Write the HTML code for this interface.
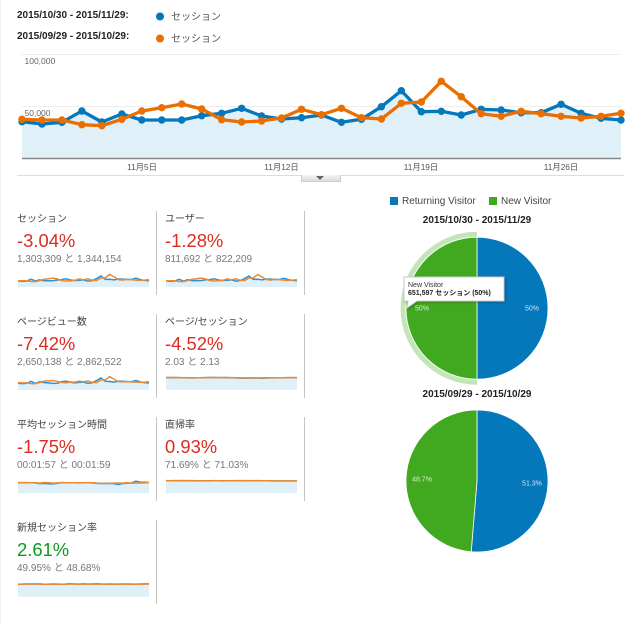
<!DOCTYPE html>
<html lang="ja">
<head>
<meta charset="utf-8">
<title>セッション比較</title>
<style>
html,body{margin:0;padding:0;background:#fff;width:637px;height:625px;overflow:hidden}
body{position:relative;font-family:"Liberation Sans","Noto Sans CJK JP",sans-serif;color:#333;filter:blur(0.35px)}
.abs{position:absolute;white-space:nowrap;line-height:1}
svg{position:absolute;left:0;top:0;overflow:visible}
.range{left:17px;font-size:10px;font-weight:bold;color:#222}
.lg{left:171px;font-size:10px;color:#555}
.tick{font-size:8.3px;color:#555;transform:translateX(-50%)}
.ylab{left:24.500px;font-size:8.5px;color:#666}
.t{font-size:10px;color:#444}
.v{font-size:18.4px}
.s{font-size:10px;color:#777}
.div{position:absolute;width:1px;height:84px;background:#c4c4c4}
.red{color:#dd2c20}.grn{color:#109a23}
.pt{font-size:10px;font-weight:bold;color:#222;left:477px;transform:translateX(-50%)}
</style>
</head>
<body>
<div class="abs" style="left:0;top:0;width:1px;height:625px;background:#f1f1f1"></div>

<div class="abs range" style="top:11px">2015/10/30 - 2015/11/29:</div>
<div class="abs range" style="top:32px">2015/09/29 - 2015/10/29:</div>
<div class="abs lg" style="top:13px">セッション</div>
<div class="abs lg" style="top:35px">セッション</div>

<svg id="main-chart" width="637" height="185"></svg>

<div class="abs ylab" style="top:56.500px">100,000</div>
<div class="abs ylab" style="top:109px">50,000</div>
<div class="abs tick" style="left:142px;top:163px">11月5日</div>
<div class="abs tick" style="left:281.5px;top:163px">11月12日</div>
<div class="abs tick" style="left:421px;top:163px">11月19日</div>
<div class="abs tick" style="left:561px;top:163px">11月26日</div>

<div class="abs" style="left:17px;top:175px;width:607px;height:1px;background:#ddd"></div>
<div class="abs" style="left:301px;top:175px;width:38px;height:6px;background:linear-gradient(#f4f4f4,#dcdcdc);border:1px solid #ccc;border-top:none"></div>
<div class="abs" style="left:316px;top:176px;width:0;height:0;border-left:4px solid transparent;border-right:4px solid transparent;border-top:4px solid #666"></div>

<div>
<div class="abs t" style="left:17px;top:214.500px">セッション</div>
<div class="abs v red" style="left:17px;top:232px">-3.04%</div>
<div class="abs s" style="left:17px;top:255px">1,303,309 と 1,344,154</div>
<svg id="spark-sessions" width="637" height="625"></svg>
<div class="div" style="left:156px;top:211px"></div>
</div>
<div>
<div class="abs t" style="left:165px;top:214.500px">ユーザー</div>
<div class="abs v red" style="left:165px;top:232px">-1.28%</div>
<div class="abs s" style="left:165px;top:255px">811,692 と 822,209</div>
<svg id="spark-users" width="637" height="625"></svg>
<div class="div" style="left:304px;top:211px"></div>
</div>
<div>
<div class="abs t" style="left:17px;top:317.500px">ページビュー数</div>
<div class="abs v red" style="left:17px;top:335px">-7.42%</div>
<div class="abs s" style="left:17px;top:358px">2,650,138 と 2,862,522</div>
<svg id="spark-pageviews" width="637" height="625"></svg>
<div class="div" style="left:156px;top:314px"></div>
</div>
<div>
<div class="abs t" style="left:165px;top:317.500px">ページ/セッション</div>
<div class="abs v red" style="left:165px;top:335px">-4.52%</div>
<div class="abs s" style="left:165px;top:358px">2.03 と 2.13</div>
<svg id="spark-pages" width="637" height="625"></svg>
<div class="div" style="left:304px;top:314px"></div>
</div>
<div>
<div class="abs t" style="left:17px;top:420.500px">平均セッション時間</div>
<div class="abs v red" style="left:17px;top:438px">-1.75%</div>
<div class="abs s" style="left:17px;top:461px">00:01:57 と 00:01:59</div>
<svg id="spark-duration" width="637" height="625"></svg>
<div class="div" style="left:156px;top:417px"></div>
</div>
<div>
<div class="abs t" style="left:165px;top:420.500px">直帰率</div>
<div class="abs v red" style="left:165px;top:438px">0.93%</div>
<div class="abs s" style="left:165px;top:461px">71.69% と 71.03%</div>
<svg id="spark-bounce" width="637" height="625"></svg>
<div class="div" style="left:304px;top:417px"></div>
</div>
<div>
<div class="abs t" style="left:17px;top:523.500px">新規セッション率</div>
<div class="abs v grn" style="left:17px;top:541px">2.61%</div>
<div class="abs s" style="left:17px;top:564px">49.95% と 48.68%</div>
<svg id="spark-newrate" width="637" height="625"></svg>
<div class="div" style="left:156px;top:520px"></div>
</div>

<div class="abs" style="left:390px;top:197px;width:8px;height:8px;background:#0577bb"></div>
<div class="abs" style="left:402px;top:197px;font-size:10px;color:#444">Returning Visitor</div>
<div class="abs" style="left:489px;top:197px;width:8px;height:8px;background:#40a91f"></div>
<div class="abs" style="left:501px;top:197px;font-size:10px;color:#444">New Visitor</div>

<div class="abs pt" style="top:216px">2015/10/30 - 2015/11/29</div>
<div class="abs pt" style="top:390px">2015/09/29 - 2015/10/29</div>
<svg id="pies" width="637" height="625"></svg>

<svg width="637" height="625">
<polygon points="404,277 504,277 504,301 417,301 407,308 408,301 404,301" fill="#fff" stroke="#ccc" stroke-width="1" style="filter:drop-shadow(1px 1px 1px rgba(0,0,0,.25))"/>
</svg>
<div class="abs" style="left:408px;top:282px;font-size:7px;color:#333">New Visitor</div>
<div class="abs" style="left:408px;top:290px;font-size:7px;font-weight:bold;color:#222">651,597 セッション (50%)</div>

<script>
const NS = 'http://www.w3.org/2000/svg';

const sessionsCurrent = [35385,33173,34808,45673,35096,42788,37019,37019,37019,41154,43462,48269,40865,37981,39231,41827,34808,37692,49808,65192,45000,45385,41827,47308,46635,44038,44038,52115,43462,38654,37019];
const sessionsPrevious = [37692,37019,37019,32500,31538,37692,45673,48846,52404,47596,37308,35096,36058,38942,47308,42115,48269,39231,37981,53077,54327,74231,59423,43077,40577,45385,43077,40577,38942,40577,43462];
const usersCurrent = [22500,20900,22000,28500,22000,27000,23400,23500,23800,26400,27400,30300,25800,24000,24900,26200,22000,23900,31300,40600,28500,28800,26500,29600,29300,27800,27900,32400,27400,24600,23500];
const usersPrevious = [23800,23400,23400,20600,20000,23900,28600,30600,32800,30000,23700,22400,23000,24700,29800,26600,30400,24900,24100,33200,34000,46200,37000,27200,25700,28600,27200,25700,24700,25700,27400];
const pageviewsCurrent = [72000,68000,71000,92000,70000,88000,78000,76000,70000,72000,88000,94000,82000,76000,80000,84000,70000,76000,100000,128000,92000,90000,84000,94000,92000,88000,88000,102000,86000,78000,74000];
const pageviewsPrevious = [78000,76000,76000,68000,66000,80000,94000,96000,100000,92000,80000,76000,86000,82000,94000,88000,96000,80000,78000,106000,108000,142000,114000,88000,86000,90000,86000,84000,82000,84000,88000];
const pagesCurrent = [2.04,2.05,2.04,2.03,2.01,2.0,2.0,2.01,2.02,2.04,2.05,2.05,2.04,2.03,2.03,2.02,2.0,1.96,1.97,1.95,1.97,1.98,1.94,1.98,2.0,2.0,2.01,2.02,2.03,2.04,2.03];
const pagesPrevious = [2.05,2.04,2.05,2.04,2.02,2.03,2.0,2.01,2.02,2.03,2.04,2.06,2.04,2.05,2.06,2.04,2.02,2.0,2.0,1.99,2.01,2.0,2.0,2.01,2.02,2.02,2.02,2.01,2.03,2.02,2.04];
const durationCurrent = [117,117,116,116,115,107,110,106,104,110,120,116,117,116,115,116,117,115,110,108,110,108,107,98,108,111,114,134,124,122,120];
const durationPrevious = [119,118,118,117,116,112,120,118,112,114,116,116,116,117,116,117,118,116,113,110,109,111,112,114,113,116,113,112,114,115,119];
const bounceCurrent = [72,71.5,71.8,71.4,72,71.6,71.2,71,71.2,71.4,71.6,71.4,71.2,71,71.4,71.6,71.6,71.8,71.5,71.6,71.4,71.6,71.7,71.2,71,70.8,70.6,70.6,70.5,70.6,70.6];
const bouncePrevious = [71.6,71.6,71.4,72,71.8,72.2,71.8,71.4,70.9,71.2,71,71.8,71.6,71.2,71.4,71.5,71.8,71.6,71.8,71.9,71.6,71.8,71.5,71.4,71.2,70.7,70.8,70.5,70.7,70.4,70.7];
const newRateCurrent = [49.2,49.4,50,50.2,50,50,49,49.6,49.8,49,49.2,49.8,51,49.8,49.6,51,49.4,50,51,49.8,49.6,50,49.4,49.6,50,49.8,49.4,49.6,50.2,50.4,50.5];
const newRatePrevious = [49.6,49.4,50.2,49.8,50.6,50.4,49.2,49,49.6,49.8,49,49.2,50,49.8,49.6,50.2,49.4,49.6,50,49.4,49.6,49.8,49.6,49.6,49.4,49.6,49.6,49,49.6,49.6,49.4];

const currentPieValues = [50, 50];
const previousPieValues = [51.3, 48.7];
const pieSegmentNames = ['returning-visitor', 'new-visitor'];
const pieColors = ['#0577bb', '#40a91f'];

const BLUE = '#0577bb', ORANGE = '#ea6f00';

function mk(tag, parent) {
  const el = document.createElementNS(NS, tag);
  parent.appendChild(el);
  return el;
}

/* main chart axes */
const xMain = i => 22 + i * (621 - 22) / (sessionsCurrent.length - 1);
const yMain = v => 158.5 - v * 104 / 100000;

function linePath(vals, xf, yf) {
  return vals.map((v, i) => (i ? 'L' : 'M') + xf(i).toFixed(2) + ' ' + yf(v).toFixed(2)).join(' ');
}

const main = document.getElementById('main-chart');

const gridTop = mk('line', main);


gridTop.setAttribute('x1', 22); gridTop.setAttribute('x2', 621);
gridTop.setAttribute('y1', yMain(100000)); gridTop.setAttribute('y2', yMain(100000));
gridTop.setAttribute('stroke', '#eeeeee');

const gridMid = mk('line', main);


gridMid.setAttribute('x1', 22); gridMid.setAttribute('x2', 621);
gridMid.setAttribute('y1', yMain(50000)); gridMid.setAttribute('y2', yMain(50000));
gridMid.setAttribute('stroke', '#eeeeee');

const mainArea = mk('path', main);


mainArea.setAttribute('d', linePath(sessionsCurrent, xMain, yMain) + ' L621 158.5 L22 158.5 Z');
mainArea.setAttribute('fill', '#e0f0f9');

const baseLine = mk('line', main);


baseLine.setAttribute('x1', 22); baseLine.setAttribute('x2', 621);
baseLine.setAttribute('y1', 158.5); baseLine.setAttribute('y2', 158.5);
baseLine.setAttribute('stroke', '#888888');
baseLine.setAttribute('stroke-width', '1.5');

function drawSeries(vals, color, name) {
  const line = mk('path', main);
  
  
  line.setAttribute('d', linePath(vals, xMain, yMain));
  line.setAttribute('fill', 'none');
  line.setAttribute('stroke', color);
  line.setAttribute('stroke-width', '3.3');
  line.setAttribute('stroke-linejoin', 'round');
  vals.forEach((v, i) => {
    const c = mk('circle', main);
    
    
    c.setAttribute('cx', xMain(i));
    c.setAttribute('cy', yMain(v));
    c.setAttribute('r', 3.7);
    c.setAttribute('fill', color);
  });
}
drawSeries(sessionsCurrent, BLUE, 'current-sessions');
drawSeries(sessionsPrevious, ORANGE, 'previous-sessions');

const legendDotA = mk('circle', main);


legendDotA.setAttribute('cx', 160); legendDotA.setAttribute('cy', 16.5);
legendDotA.setAttribute('r', 4); legendDotA.setAttribute('fill', BLUE);

const legendDotB = mk('circle', main);


legendDotB.setAttribute('cx', 160); legendDotB.setAttribute('cy', 38.5);
legendDotB.setAttribute('r', 4); legendDotB.setAttribute('fill', ORANGE);

/* sparklines */
function drawSpark(id, current, previous, axisMax, left, base) {
  const svg = document.getElementById(id);
  const width = 131, height = 17;
  const xf = i => left + i * width / (current.length - 1);
  const yf = v => base - v * height / axisMax;
  const area = mk('path', svg);
  
  
  area.setAttribute('d', linePath(current, xf, yf) + ' L' + (left + width) + ' ' + base + ' L' + left + ' ' + base + ' Z');
  area.setAttribute('fill', '#e0f0f9');
  const a = mk('path', svg);
  
  
  a.setAttribute('d', linePath(current, xf, yf));
  a.setAttribute('fill', 'none');
  a.setAttribute('stroke', '#2f93cf');
  a.setAttribute('stroke-width', '1.5');
  const b = mk('path', svg);
  
  
  b.setAttribute('d', linePath(previous, xf, yf));
  b.setAttribute('fill', 'none');
  b.setAttribute('stroke', '#ee8a2e');
  b.setAttribute('stroke-width', '1.5');
}
drawSpark('spark-sessions', sessionsCurrent, sessionsPrevious, 100000, 18, 287);
drawSpark('spark-users', usersCurrent, usersPrevious, 63000, 166, 287);
drawSpark('spark-pageviews', pageviewsCurrent, pageviewsPrevious, 180000, 18, 390);
drawSpark('spark-pages', pagesCurrent, pagesPrevious, 2.8, 166, 390);
drawSpark('spark-duration', durationCurrent, durationPrevious, 188, 18, 493.3);
drawSpark('spark-bounce', bounceCurrent, bouncePrevious, 96.7, 166, 493.3);
drawSpark('spark-newrate', newRateCurrent, newRatePrevious, 67, 18, 596.7);

/* pies */
const pies = document.getElementById('pies');
function polar(cx, cy, r, frac) {
  const a = frac * 2 * Math.PI;
  return [cx + r * Math.sin(a), cy - r * Math.cos(a)];
}
function drawPie(values, cx, cy, r, prefix, labelText) {
  const total = values.reduce((a, b) => a + b, 0);
  let acc = 0;
  values.forEach((v, i) => {
    const start = acc / total, end = (acc + v) / total;
    const p0 = polar(cx, cy, r, start), p1 = polar(cx, cy, r, end);
    const slice = mk('path', pies);
    
    
    slice.setAttribute('d', 'M' + cx + ' ' + cy + ' L' + p0[0] + ' ' + p0[1] + ' A' + r + ' ' + r + ' 0 ' + (end - start > 0.5 ? 1 : 0) + ' 1 ' + p1[0] + ' ' + p1[1] + ' Z');
    slice.setAttribute('fill', pieColors[i]);
    slice.setAttribute('stroke', '#fff');
    slice.setAttribute('stroke-width', '0.8');
    const lp = polar(cx, cy, r * 0.775, (start + end) / 2);
    const t = mk('text', pies);
    
    
    t.setAttribute('x', lp[0]);
    t.setAttribute('y', lp[1] + 2.5);
    t.setAttribute('text-anchor', 'middle');
    t.setAttribute('font-size', '7');
    t.setAttribute('fill', '#fff');
    t.setAttribute('fill-opacity', '0.8');
    t.textContent = labelText(v, total);
    acc += v;
  });
}

/* hover halo around the highlighted new-visitor slice */
function drawHalo(values, cx, cy, rInner, rOuter) {
  const total = values.reduce((a, b) => a + b, 0);
  const startFrac = values[0] / total;
  const a0 = polar(cx, cy, rOuter, startFrac), a1 = polar(cx, cy, rOuter, 1);
  const b1 = polar(cx, cy, rInner, 1), b0 = polar(cx, cy, rInner, startFrac);
  const halo = mk('path', pies);
  
  
  halo.setAttribute('d', 'M' + a0 + ' A' + rOuter + ' ' + rOuter + ' 0 0 1 ' + a1 + ' L' + b1 + ' A' + rInner + ' ' + rInner + ' 0 0 0 ' + b0 + ' Z');
  halo.setAttribute('fill', '#c3e6b8');
}
drawHalo(currentPieValues, 477, 308.2, 71.5, 76.5);
drawPie(currentPieValues, 477, 308.2, 71, 'pie-current', (v, t) => Math.round(v / t * 100) + '%');
drawPie(previousPieValues, 477, 481, 71, 'pie-previous', (v, t) => (v / t * 100).toFixed(1) + '%');
</script>
</body>
</html>
